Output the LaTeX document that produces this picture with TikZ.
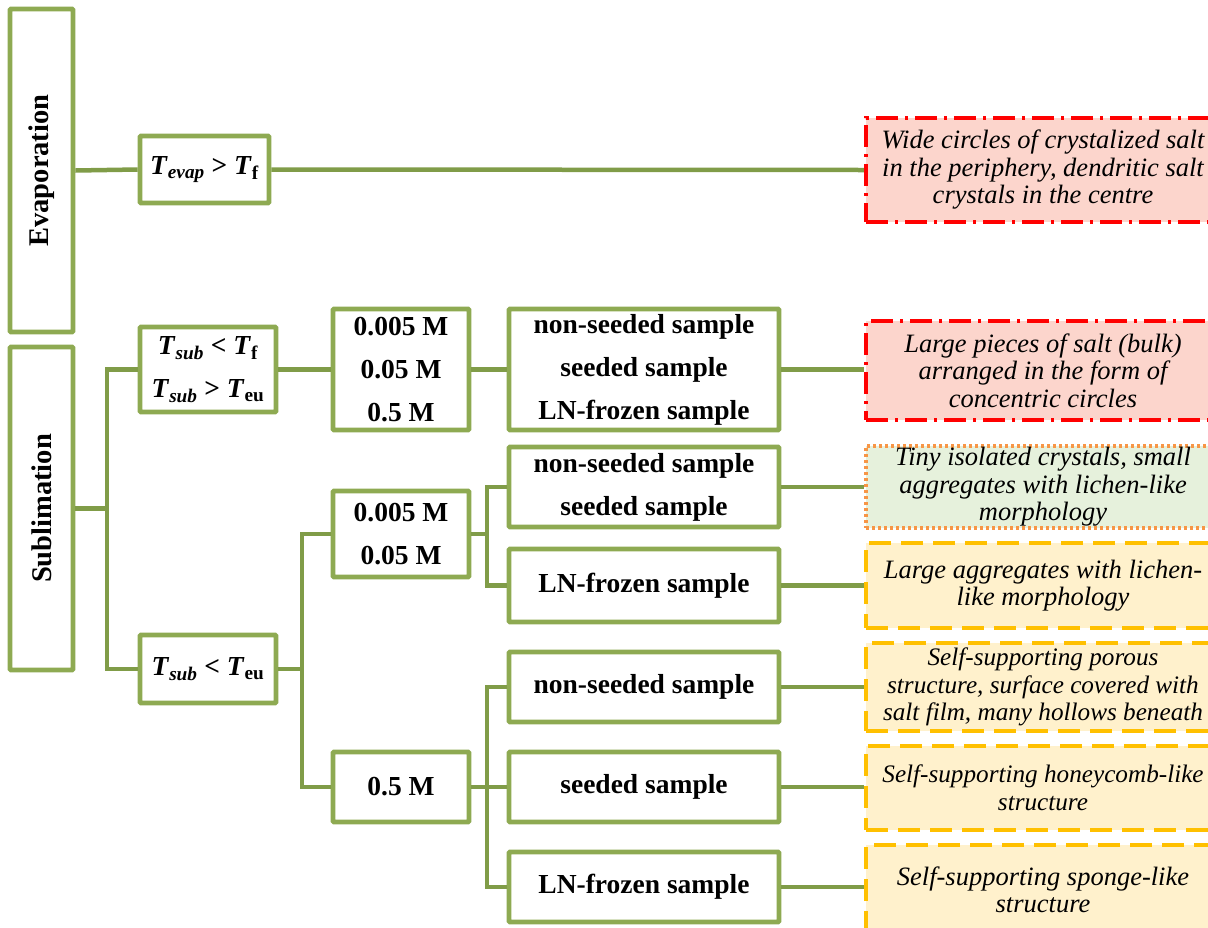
\documentclass[tikz,border=0pt]{standalone}
\usepackage{fontspec}
\setmainfont{Liberation Serif}
\definecolor{gr}{HTML}{8EAA52}
\definecolor{grd}{HTML}{809C48}
\definecolor{redfill}{HTML}{FCD5CC}
\definecolor{greenfill}{HTML}{E6F1DC}
\definecolor{orangeline}{HTML}{F79646}
\definecolor{yelfill}{HTML}{FFF1CC}
\definecolor{yelline}{HTML}{FFC000}
\newcommand{\TT}[1]{\textit{T}\textsubscript{\textit{#1}}}
\newcommand{\TR}[1]{\textit{T}\textsubscript{#1}}
\tikzset{
  gbox/.style={draw=gr, line width=4.8pt, fill=white, rounded corners=1pt, inner sep=0pt, align=center,
    font=\fontsize{27.5}{43}\selectfont\bfseries},
  conn/.style={draw=grd, line width=4.5pt},
  rbase/.style={line width=4.5pt, inner sep=0pt, align=center, minimum width=354pt,
    font=\fontsize{26.5}{27.5}\selectfont\itshape},
  redbox/.style={rbase, draw=red, fill=redfill, dash pattern=on 22pt off 7pt on 3pt off 7pt},
  greenbox/.style={rbase, draw=orangeline, fill=greenfill, line width=3.5pt, dash pattern=on 3pt off 3pt},
  yelbox/.style={rbase, draw=yelline, fill=yelfill, dash pattern=on 22pt off 10pt},
  tight/.style={font=\fontsize{25.2}{27.5}\selectfont\itshape},
}
\begin{document}
\begin{tikzpicture}[x=1pt,y=-1pt]
\useasboundingbox (0,0) rectangle (1208,927);
\clip (0,0) rectangle (1208,927);
% left category boxes
\node[gbox, rotate=90, minimum width=323pt, minimum height=63pt, font=\fontsize{28.5}{30}\selectfont\bfseries] (evap) at (41.5,170.5) {Evaporation};
\node[gbox, rotate=90, minimum width=323pt, minimum height=63pt, font=\fontsize{28.5}{30}\selectfont\bfseries] (sub) at (41.5,508.5) {Sublimation};
% condition boxes
\node[gbox, minimum width=129pt, minimum height=67pt] (tevap) at (204.5,169.5) {\TT{evap} > \TR{f}};
\node[gbox, minimum width=136pt, minimum height=85pt] (tsub1) at (208,369.5) {\TT{sub} < \TR{f}\\\TT{sub} > \TR{eu}};
\node[gbox, minimum width=136pt, minimum height=68pt] (tsub2) at (208,669) {\TT{sub} < \TR{eu}};
% molarity boxes
\node[gbox, minimum width=136pt, minimum height=121pt] (m1) at (401,369.5) {0.005 M\\0.05 M\\0.5 M};
\node[gbox, minimum width=136pt, minimum height=86pt] (m2) at (401,534) {0.005 M\\0.05 M};
\node[gbox, minimum width=136pt, minimum height=70pt] (m3) at (401,787) {0.5 M};
% sample boxes
\node[gbox, minimum width=270pt, minimum height=121pt] (s1) at (644,369.5) {non-seeded sample\\seeded sample\\LN-frozen sample};
\node[gbox, minimum width=270pt, minimum height=80pt] (s2) at (644,487) {non-seeded sample\\seeded sample};
\node[gbox, minimum width=270pt, minimum height=73pt] (s3) at (644,585.5) {LN-frozen sample};
\node[gbox, minimum width=270pt, minimum height=70pt] (s4) at (644,687) {non-seeded sample};
\node[gbox, minimum width=270pt, minimum height=70pt] (s5) at (644,787) {seeded sample};
\node[gbox, minimum width=270pt, minimum height=70pt] (s6) at (644,887) {LN-frozen sample};
% result boxes
\node[redbox, minimum height=104pt] (r1) at (1043,170) {Wide circles of crystalized salt\\in the periphery, dendritic salt\\crystals in the centre};
\node[redbox, minimum height=99pt] (r2) at (1043,370.5) {Large pieces of salt (bulk)\\arranged in the form of\\concentric circles};
\node[greenbox, minimum height=82pt] (r3) at (1043,487) {Tiny isolated crystals, small\\aggregates with lichen-like\\morphology};
\node[yelbox, minimum height=85pt] (r4) at (1043,585.5) {Large aggregates with lichen-\\like morphology};
\node[yelbox, tight, minimum height=88pt] (r5) at (1043,687) {Self-supporting porous\\structure, surface covered with\\salt film, many hollows beneath};
\node[yelbox, tight, minimum height=84pt] (r6) at (1043,788) {Self-supporting honeycomb-like\\structure};
\node[yelbox, minimum height=90pt] (r7) at (1043,890) {Self-supporting sponge-like\\structure};
% junctions
\coordinate (j1) at (107,508.5);
\coordinate (j2) at (302,669);
\coordinate (j3) at (487,534);
\coordinate (j4) at (487,787);
% connectors
\draw[conn] (evap.south) -- (tevap.west);
\draw[conn] (tevap.east) -- (r1.west);
\draw[conn] (sub.south) -- (j1);
\draw[conn] (tsub1.west) -| (j1) |- (tsub2.west);
\draw[conn] (tsub1.east) -- (m1.west);
\draw[conn] (m1.east) -- (s1.west);
\draw[conn] (s1.east) -- (s1.east -| r2.west);
\draw[conn] (tsub2.east) -- (j2);
\draw[conn] (m2.west) -| (j2) |- (m3.west);
\draw[conn] (m2.east) -- (j3);
\draw[conn] (s2.west) -| (j3) |- (s3.west);
\draw[conn] (m3.east) -- (s5.west);
\draw[conn] (s4.west) -| (j4) |- (s6.west);
\draw[conn] (s2.east) -- (s2.east -| r3.west);
\draw[conn] (s3.east) -- (s3.east -| r4.west);
\draw[conn] (s4.east) -- (s4.east -| r5.west);
\draw[conn] (s5.east) -- (s5.east -| r6.west);
\draw[conn] (s6.east) -- (s6.east -| r7.west);
\end{tikzpicture}
\end{document}
